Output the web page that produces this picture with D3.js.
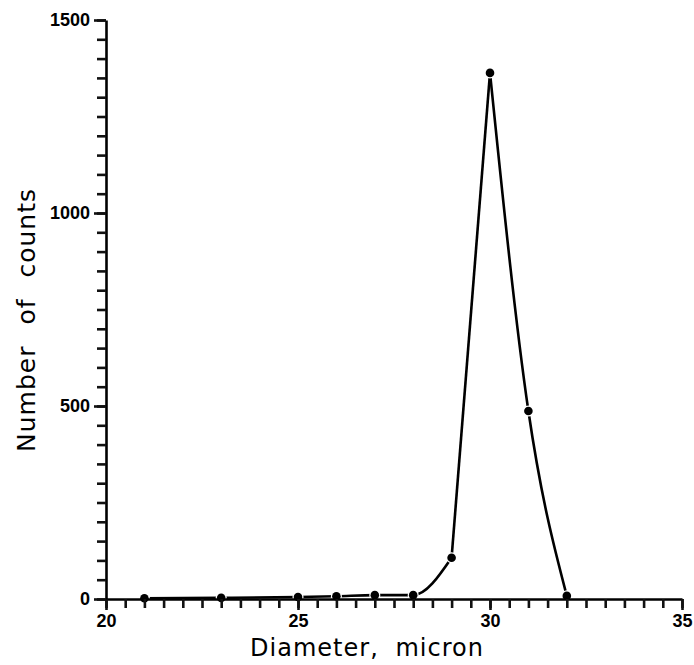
<!DOCTYPE html>
<html>
<head>
<meta charset="utf-8">
<script src="https://cdn.jsdelivr.net/npm/d3@7"></script>
<style>
  body { margin: 0; background: #fff; }
  svg { display: block; }
</style>
</head>
<body>
<div class="chart"></div>
<script>
const W = 694, H = 665;
const margin = { top: 20, right: 12, bottom: 66, left: 106 };
const width = W - margin.left - margin.right;
const height = H - margin.top - margin.bottom;

// data
const diameter = [21, 23, 25, 26, 27, 28, 29, 30, 31, 32];
const counts   = [2, 3, 5, 7, 10, 10, 107, 1363, 487, 8];
const xTicks = [20, 25, 30, 35];
const yTicks = [0, 500, 1000, 1500];
const xMinor = d3.range(20, 35.01, 0.5);
const yMinor = d3.range(0, 1501, 50);

const data = diameter.map((d, i) => ({ x: d, y: counts[i] }));

const x = d3.scaleLinear().domain([20, 35]).range([0, width]);
const y = d3.scaleLinear().domain([0, 1500]).range([height, 0]);

const svg = d3.select(".chart").append("svg")
    .attr("width", W)
    .attr("height", H)
    .append("g")
    .attr("transform", `translate(${margin.left},${margin.top})`);

const tickFont = "'Liberation Sans', Arial, sans-serif";

// the curve: smooth tail on the left, sharp peak, smooth tail on the right
const smooth = d3.line()
    .x(d => x(d.x))
    .y(d => y(d.y))
    .curve(d3.curveMonotoneX);
const straight = d3.line()
    .x(d => x(d.x))
    .y(d => y(d.y));

const parts = [
    { pts: data.filter(d => d.x <= 29), gen: smooth },
    { pts: data.filter(d => d.x >= 29 && d.x <= 30), gen: straight },
    { pts: data.filter(d => d.x >= 30), gen: smooth }
];

svg.selectAll(".curve")
    .data(parts)
    .enter().append("path")
    .attr("class", "curve")
    .attr("fill", "none")
    .attr("stroke", "#000")
    .attr("stroke-width", 2.6)
    .attr("d", p => p.gen(p.pts));

// markers with a small white halo
svg.selectAll(".pt")
    .data(data)
    .enter().append("circle")
    .attr("class", "pt")
    .attr("cx", d => x(d.x))
    .attr("cy", d => y(d.y))
    .attr("r", 4.3)
    .attr("fill", "#000")
    .attr("stroke", "#fff")
    .attr("stroke-width", 2.5)
    .attr("paint-order", "stroke");

// x axis: minor ticks every 0.5 through the library axis
const xAxisMinor = svg.append("g")
    .attr("transform", `translate(0,${height})`)
    .call(d3.axisBottom(x).tickValues(xMinor).tickSize(9).tickSizeOuter(0).tickFormat(""));
xAxisMinor.selectAll(".tick line").attr("stroke", "#111").attr("stroke-width", 2.6);
xAxisMinor.select(".domain").attr("stroke", "#000").attr("stroke-width", 2.6);

// x axis labels
svg.append("g")
    .attr("transform", `translate(0,${height})`)
    .call(d3.axisBottom(x).tickValues(xTicks).tickSize(11).tickPadding(4).tickFormat(d3.format("d")))
    .call(g => g.select(".domain").remove())
    .call(g => g.selectAll(".tick line").attr("stroke", "#111").attr("stroke-width", 2.6))
    .selectAll("text")
    .style("font-family", tickFont)
    .style("font-weight", "bold")
    .style("font-size", "18px")
    .attr("fill", "#000");

// y axis: minor ticks every 50
const yAxisMinor = svg.append("g")
    .call(d3.axisLeft(y).tickValues(yMinor).tickSize(9).tickSizeOuter(0).tickFormat(""));
yAxisMinor.selectAll(".tick line").attr("stroke", "#111").attr("stroke-width", 2.6);
yAxisMinor.select(".domain").attr("stroke", "#000").attr("stroke-width", 2.6);

// y axis labels
svg.append("g")
    .call(d3.axisLeft(y).tickValues(yTicks).tickSize(12).tickPadding(4).tickFormat(d3.format("d")))
    .call(g => g.select(".domain").remove())
    .call(g => g.selectAll(".tick line").attr("stroke", "#111").attr("stroke-width", 2.6))
    .selectAll("text")
    .style("font-family", tickFont)
    .style("font-weight", "bold")
    .style("font-size", "18px")
    .attr("fill", "#000");

// axis titles
svg.append("text")
    .attr("x", 261)
    .attr("y", height + 57)
    .attr("text-anchor", "middle")
    .style("font-family", "'DejaVu Sans', sans-serif")
    .style("font-size", "24px")
    .style("letter-spacing", "1px")
    .style("word-spacing", "8px")
    .text("Diameter, micron");

svg.append("text")
    .attr("transform", "rotate(-90)")
    .attr("x", -300)
    .attr("y", -71)
    .attr("text-anchor", "middle")
    .style("font-family", "'DejaVu Sans', sans-serif")
    .style("font-size", "25px")
    .style("letter-spacing", "1px")
    .style("word-spacing", "12px")
    .text("Number of counts");
</script>
</body>
</html>
